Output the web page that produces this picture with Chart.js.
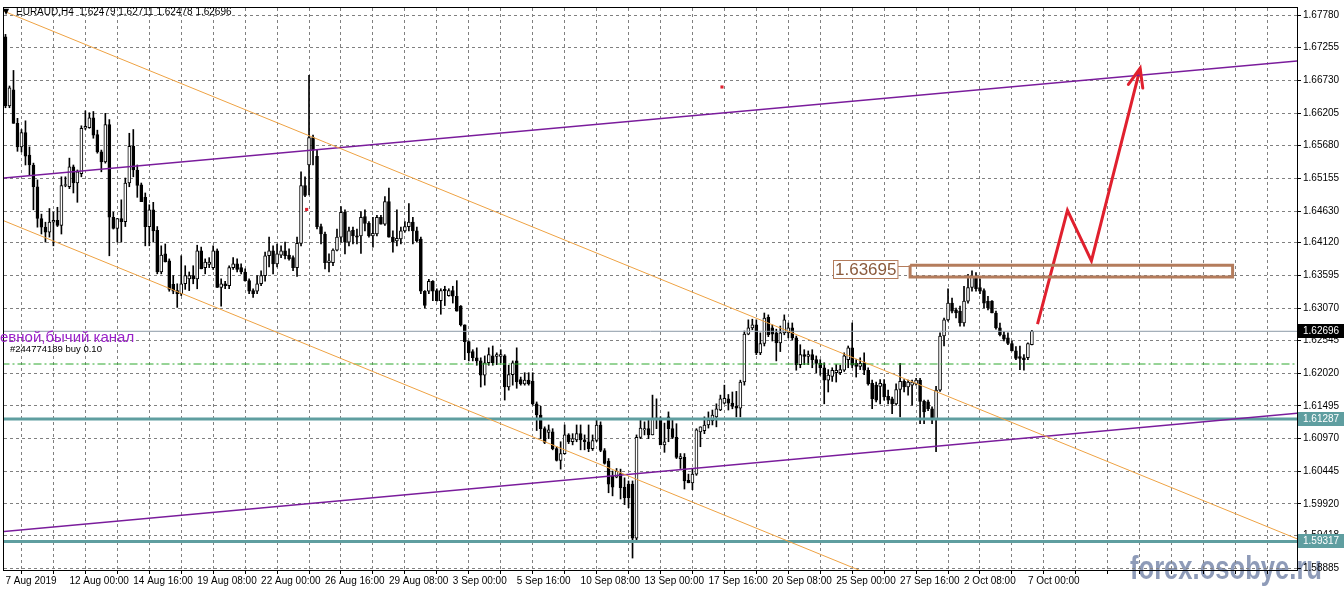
<!DOCTYPE html>
<html>
<head>
<meta charset="utf-8">
<title>EURAUD,H4</title>
<script src="https://cdn.jsdelivr.net/npm/chart.js@4.4.1/dist/chart.umd.min.js"></script>
<style>
  html, body { margin: 0; padding: 0; background: #fff; }
  #wrap { width: 1344px; height: 593px; position: relative; }
</style>
</head>
<body>
<div id="wrap"><canvas id="chart"></canvas></div>
<script>
// EURAUD H4 candles, bar 0 = 7 Aug 2019 08:00 (one bar = 4 hours)
const opens = [
  1.6743,1.6632,1.6658,1.6604,1.6566,1.6589,1.6553,1.6537,1.6502,1.6451,
  1.6437,1.6429,1.6445,1.6448,1.6440,1.6504,1.6502,1.6534,1.6508,1.6523,
  1.6596,1.6597,1.6613,1.6586,1.6558,1.6542,1.6602,1.6453,1.6435,1.6451,
  1.6446,1.6508,1.6567,1.6529,1.6505,1.6485,1.6438,1.6465,1.6432,1.6365,
  1.6394,1.6383,1.6345,1.6335,1.6330,1.6346,1.6354,1.6359,1.6354,1.6399,
  1.6372,1.6377,1.6372,1.6399,1.6340,1.6346,1.6343,1.6372,1.6378,1.6372,
  1.6365,1.6351,1.6335,1.6334,1.6346,1.6359,1.6391,1.6399,1.6378,1.6392,
  1.6399,1.6392,1.6388,1.6372,1.6411,1.6504,1.6537,1.6581,1.6551,1.6438,
  1.6426,1.6380,1.6380,1.6400,1.6421,1.6461,1.6413,1.6432,1.6423,1.6423,
  1.6454,1.6443,1.6423,1.6426,1.6453,1.6442,1.6478,1.6421,1.6415,1.6418,
  1.6431,1.6438,1.6445,1.6431,1.6418,1.6334,1.6334,1.6350,1.6335,1.6319,
  1.6337,1.6327,1.6335,1.6326,1.6310,1.6280,1.6253,1.6237,1.6227,1.6222,
  1.6199,1.6219,1.6230,1.6229,1.6229,1.6230,1.6180,1.6200,1.6222,1.6192,
  1.6185,1.6191,1.6189,1.6153,1.6135,1.6113,1.6107,1.6108,1.6081,1.6062,
  1.6073,1.6103,1.6092,1.6095,1.6105,1.6095,1.6092,1.6081,1.6094,1.6119,
  1.6078,1.6061,1.6037,1.6035,1.6041,1.6019,1.6024,1.6024,1.5937,1.6099,
  1.6111,1.6113,1.6103,1.6129,1.6127,1.6087,1.6132,1.6113,1.6099,1.6065,
  1.6067,1.6030,1.6026,1.6040,1.6108,1.6110,1.6119,1.6126,1.6132,1.6143,
  1.6154,1.6161,1.6154,1.6149,1.6146,1.6188,1.6265,1.6275,1.6280,1.6235,
  1.6250,1.6292,1.6275,1.6267,1.6251,1.6267,1.6267,1.6275,1.6259,1.6216,
  1.6232,1.6229,1.6232,1.6224,1.6218,1.6211,1.6191,1.6197,1.6203,1.6203,
  1.6207,1.6224,1.6243,1.6218,1.6213,1.6219,1.6207,1.6186,1.6183,1.6181,
  1.6185,1.6165,1.6161,1.6153,1.6176,1.6189,1.6180,1.6183,1.6185,1.6191,
  1.6157,1.6156,1.6145,1.6127,1.6175,1.6262,1.6288,1.6315,1.6304,1.6302,
  1.6283,1.6318,1.6340,1.6358,1.6340,1.6335,1.6318,1.6318,1.6299,1.6275,
  1.6264,1.6259,1.6250,1.6238,1.6229,1.6227,1.6227,1.62479
];
const highs = [
  1.6747,1.6664,1.6689,1.6612,1.6594,1.6608,1.6566,1.6540,1.6513,1.6458,
  1.6445,1.6467,1.6461,1.6469,1.6518,1.6518,1.6548,1.6537,1.6529,1.6600,
  1.6624,1.6621,1.6623,1.6593,1.6561,1.6620,1.6610,1.6461,1.6451,1.6481,
  1.6516,1.6588,1.6594,1.6537,1.6508,1.6492,1.6473,1.6477,1.6438,1.6407,
  1.6410,1.6386,1.6359,1.6346,1.6391,1.6375,1.6365,1.6375,1.6408,1.6405,
  1.6386,1.6388,1.6407,1.6402,1.6354,1.6350,1.6375,1.6388,1.6386,1.6378,
  1.6370,1.6354,1.6338,1.6359,1.6367,1.6397,1.6421,1.6407,1.6410,1.6407,
  1.6413,1.6402,1.6391,1.6421,1.6526,1.6518,1.6681,1.6585,1.6561,1.6442,
  1.6429,1.6394,1.6402,1.6434,1.6470,1.6465,1.6437,1.6437,1.6434,1.6462,
  1.6465,1.6446,1.6453,1.6456,1.6456,1.6486,1.6500,1.6431,1.6465,1.6437,
  1.6446,1.6475,1.6453,1.6437,1.6421,1.6335,1.6353,1.6351,1.6338,1.6338,
  1.6342,1.6338,1.6342,1.6351,1.6311,1.6280,1.6254,1.6240,1.6243,1.6227,
  1.6230,1.6243,1.6246,1.6235,1.6240,1.6232,1.6215,1.6222,1.6243,1.6196,
  1.6203,1.6203,1.6203,1.6156,1.6149,1.6116,1.6119,1.6113,1.6084,1.6092,
  1.6119,1.6105,1.6105,1.6119,1.6119,1.6103,1.6119,1.6103,1.6127,1.6124,
  1.6081,1.6065,1.6045,1.6049,1.6048,1.6034,1.6029,1.6029,1.6103,1.6127,
  1.6124,1.6127,1.6167,1.6161,1.6132,1.6122,1.6140,1.6127,1.6121,1.6073,
  1.6073,1.6040,1.6048,1.6113,1.6116,1.6132,1.6140,1.6143,1.6153,1.6167,
  1.6183,1.6168,1.6172,1.6173,1.6191,1.6270,1.6288,1.6289,1.6288,1.6267,
  1.6299,1.6296,1.6280,1.6273,1.6278,1.6296,1.6283,1.6283,1.6262,1.6248,
  1.6240,1.6238,1.6240,1.6230,1.6224,1.6219,1.6208,1.6211,1.6216,1.6215,
  1.6235,1.6246,1.6283,1.6224,1.6227,1.6235,1.6211,1.6191,1.6188,1.6192,
  1.6192,1.6175,1.6164,1.6185,1.6218,1.6192,1.6191,1.6191,1.6194,1.6194,
  1.6159,1.6159,1.6148,1.6181,1.6267,1.6291,1.6338,1.6323,1.6307,1.6310,
  1.6342,1.6361,1.6367,1.6364,1.6354,1.6338,1.6326,1.6319,1.6302,1.6283,
  1.6269,1.6267,1.6254,1.6245,1.6246,1.6232,1.6251,1.62711
];
const lows = [
  1.6629,1.6629,1.6604,1.6559,1.6558,1.6537,1.6521,1.6465,1.6437,1.6426,
  1.6413,1.6421,1.6407,1.6438,1.6426,1.6502,1.6499,1.6492,1.6477,1.6518,
  1.6594,1.6596,1.6580,1.6556,1.6526,1.6540,1.6391,1.6434,1.6413,1.6413,
  1.6438,1.6502,1.6518,1.6485,1.6478,1.6407,1.6407,1.6413,1.6362,1.6362,
  1.6381,1.6334,1.6330,1.6308,1.6327,1.6337,1.6335,1.6346,1.6338,1.6370,
  1.6362,1.6372,1.6369,1.6340,1.6310,1.6338,1.6338,1.6369,1.6365,1.6362,
  1.6350,1.6330,1.6324,1.6330,1.6343,1.6350,1.6373,1.6362,1.6373,1.6388,
  1.6386,1.6384,1.6367,1.6358,1.6407,1.6486,1.6489,1.6537,1.6434,1.6410,
  1.6370,1.6365,1.6375,1.6399,1.6413,1.6394,1.6407,1.6410,1.6410,1.6395,
  1.6431,1.6421,1.6405,1.6423,1.6442,1.6440,1.6421,1.6397,1.6407,1.6410,
  1.6429,1.6431,1.6410,1.6413,1.6330,1.6307,1.6330,1.6319,1.6318,1.6297,
  1.6311,1.6326,1.6315,1.6302,1.6278,1.6224,1.6222,1.6222,1.6215,1.6180,
  1.6183,1.6215,1.6215,1.6216,1.6219,1.6159,1.6175,1.6183,1.6178,1.6183,
  1.6183,1.6183,1.6151,1.6110,1.6097,1.6089,1.6097,1.6079,1.6061,1.6048,
  1.6072,1.6089,1.6087,1.6092,1.6079,1.6079,1.6076,1.6078,1.6092,1.6076,
  1.6056,1.6010,1.6005,1.6034,1.6000,1.5991,1.5986,1.5905,1.5933,1.6097,
  1.6103,1.6097,1.6103,1.6113,1.6087,1.6075,1.6092,1.6097,1.6065,1.6049,
  1.6016,1.6026,1.6015,1.6038,1.6084,1.6105,1.6114,1.6119,1.6116,1.6142,
  1.6153,1.6143,1.6145,1.6132,1.6132,1.6183,1.6264,1.6272,1.6232,1.6232,
  1.6246,1.6261,1.6254,1.6222,1.6237,1.6264,1.6259,1.6256,1.6207,1.6211,
  1.6216,1.6216,1.6211,1.6203,1.6199,1.6153,1.6172,1.6189,1.6188,1.6200,
  1.6205,1.6211,1.6211,1.6196,1.6208,1.6200,1.6183,1.6145,1.6156,1.6153,
  1.6159,1.6153,1.6137,1.6151,1.6132,1.6172,1.6167,1.6151,1.6183,1.6121,
  1.6121,1.6142,1.6121,1.6076,1.6173,1.6246,1.6286,1.6299,1.6291,1.6278,
  1.6278,1.6315,1.6334,1.6334,1.6330,1.6307,1.6304,1.6299,1.6273,1.6262,
  1.6254,1.6248,1.6238,1.6224,1.6208,1.6207,1.6224,1.62478
];
const closes = [
  1.6632,1.6661,1.6604,1.6566,1.6589,1.6551,1.6537,1.6502,1.6451,1.6437,
  1.6429,1.6445,1.6448,1.6440,1.6504,1.6505,1.6534,1.6508,1.6526,1.6596,
  1.6599,1.6613,1.6585,1.6558,1.6542,1.6602,1.6453,1.6435,1.6451,1.6446,
  1.6508,1.6567,1.6529,1.6504,1.6478,1.6438,1.6465,1.6431,1.6365,1.6392,
  1.6381,1.6337,1.6334,1.6330,1.6346,1.6359,1.6359,1.6354,1.6399,1.6370,
  1.6381,1.6381,1.6399,1.6340,1.6346,1.6343,1.6372,1.6378,1.6369,1.6365,
  1.6351,1.6334,1.6330,1.6346,1.6359,1.6391,1.6399,1.6378,1.6394,1.6399,
  1.6391,1.6386,1.6372,1.6411,1.6504,1.6488,1.6581,1.6561,1.6438,1.6426,
  1.6380,1.6383,1.6400,1.6421,1.6461,1.6413,1.6431,1.6423,1.6421,1.6453,
  1.6443,1.6423,1.6427,1.6453,1.6442,1.6478,1.6421,1.6413,1.6419,1.6431,
  1.6438,1.6445,1.6431,1.6415,1.6334,1.6311,1.6350,1.6334,1.6319,1.6335,
  1.6335,1.6335,1.6326,1.6302,1.6280,1.6253,1.6235,1.6227,1.6222,1.6199,
  1.6219,1.6232,1.6219,1.6232,1.6232,1.6180,1.6200,1.6219,1.6188,1.6185,
  1.6191,1.6185,1.6153,1.6135,1.6113,1.6091,1.6111,1.6081,1.6062,1.6073,
  1.6103,1.6092,1.6097,1.6105,1.6095,1.6092,1.6081,1.6094,1.6119,1.6078,
  1.6057,1.6024,1.6019,1.6045,1.6018,1.6002,1.6002,1.5937,1.6099,1.6114,
  1.6113,1.6103,1.6130,1.6130,1.6087,1.6092,1.6113,1.6099,1.6067,1.6068,
  1.6029,1.6026,1.6040,1.6111,1.6116,1.6119,1.6127,1.6135,1.6145,1.6161,
  1.6162,1.6154,1.6149,1.6146,1.6188,1.6265,1.6275,1.6280,1.6235,1.6250,
  1.6291,1.6264,1.6265,1.6251,1.6267,1.6288,1.6275,1.6259,1.6216,1.6232,
  1.6229,1.6232,1.6224,1.6218,1.6211,1.6191,1.6199,1.6207,1.6207,1.6208,
  1.6230,1.6243,1.6215,1.6213,1.6218,1.6207,1.6185,1.6161,1.6159,1.6186,
  1.6164,1.6159,1.6153,1.6176,1.6189,1.6180,1.6188,1.6188,1.6191,1.6157,
  1.6140,1.6145,1.6127,1.6175,1.6262,1.6288,1.6315,1.6302,1.6299,1.6283,
  1.6318,1.6340,1.6358,1.6338,1.6334,1.6315,1.6307,1.6299,1.6275,1.6264,
  1.6257,1.6250,1.6238,1.6226,1.6226,1.6224,1.6250,1.62696
];

// time axis: one label every 16 bars, a grid line every 8
const timeLabels = ['7 Aug 2019', '12 Aug 00:00', '14 Aug 16:00', '19 Aug 08:00', '22 Aug 00:00',
  '26 Aug 16:00', '29 Aug 08:00', '3 Sep 00:00', '5 Sep 16:00', '10 Sep 08:00', '13 Sep 00:00',
  '17 Sep 16:00', '20 Sep 08:00', '25 Sep 00:00', '27 Sep 16:00', '2 Oct 08:00', '7 Oct 00:00'];
const labelEvery = 16;
const gridEvery = 8;

const priceTicks = [1.67780, 1.67255, 1.66730, 1.66205, 1.65680, 1.65155, 1.64630, 1.64120, 1.63595,
  1.63070, 1.62545, 1.62020, 1.61495, 1.60970, 1.60445, 1.59920, 1.59418, 1.58885];

// drawn objects: [bar index, price]
const bidPrice = 1.62696;
const levelPrices = [1.61287, 1.59317];
const orderPrice = 1.62170;
const zonePrice = 1.63695;
const zoneX = [226.5, 307.25];
const zoneY = [1.63757, 1.63567];
const orangeUpper = [[-1, 1.67858], [324, 1.59343]];
const orangeLower = [[-1, 1.64488], [215, 1.58822]];
const purpleUpper = [[-1, 1.65158], [324, 1.67046]];
const purpleLower = [[-1, 1.59473], [324, 1.61382]];
const forecastPath = [[258.4, 1.62813], [265.9, 1.64639], [271.9, 1.63829], [284.1, 1.66925]];
const redMarks = [[75.4, 1.64655], [179.4, 1.66624]];

const FONT = '"Liberation Sans", Arial, sans-serif';
const TEAL = '#5f9ea0';
const BROWN = '#b47c5c';
const RED = '#e0202e';

const idx = opens.map((_, i) => i);
const pts = pairs => pairs.map(p => ({ x: p[0], y: p[1] }));
const flat = price => [{ x: -1, y: price }, { x: 324, y: price }];

function lineSet(data, color, width, dash) {
    return {
        type: 'line', data: data, borderColor: color, borderWidth: width,
        borderDash: dash || [], pointRadius: 0, fill: false, tension: 0, clip: 0, order: 0
    };
}

// overlay texts, price boxes, arrow head
const overlay = {
    id: 'overlay',
    beforeDraw(chart) {
        const ctx = chart.ctx;
        ctx.save();
        ctx.font = 'bold 33px ' + FONT;
        ctx.fillStyle = 'rgba(104, 122, 160, 0.75)';
        ctx.textBaseline = 'alphabetic';
        const w = ctx.measureText('forex.osobye.ru').width;
        ctx.translate(1130, 579);
        ctx.scale(192 / w, 1);
        ctx.fillText('forex.osobye.ru', 0, 0);
        ctx.restore();
    },
    afterDraw(chart) {
        const ctx = chart.ctx;
        const xs = chart.scales.x, ys = chart.scales.y;
        const a = chart.chartArea;
        ctx.save();

        // frame
        ctx.strokeStyle = '#000';
        ctx.lineWidth = 1;
        ctx.strokeRect(a.left - 0.5, a.top - 0.5, a.right - a.left + 1, a.bottom - a.top + 1);

        // arrow head on forecast path
        const n = forecastPath.length;
        const px1 = xs.getPixelForValue(forecastPath[n - 2][0]), py1 = ys.getPixelForValue(forecastPath[n - 2][1]);
        const px2 = xs.getPixelForValue(forecastPath[n - 1][0]), py2 = ys.getPixelForValue(forecastPath[n - 1][1]);
        const ang = Math.atan2(py2 - py1, px2 - px1);
        ctx.strokeStyle = RED;
        ctx.lineWidth = 3;
        ctx.lineCap = 'round';
        ctx.beginPath();
        ctx.moveTo(px2 - 20 * Math.cos(ang - 0.38), py2 - 20 * Math.sin(ang - 0.38));
        ctx.lineTo(px2, py2);
        ctx.lineTo(px2 - 20 * Math.cos(ang + 0.38), py2 - 20 * Math.sin(ang + 0.38));
        ctx.stroke();

        // zone price label
        const zx = xs.getPixelForValue(zoneX[0]);
        const zTop = ys.getPixelForValue(zoneY[0]);
        const zy = ys.getPixelForValue(zonePrice);
        ctx.font = '17px ' + FONT;
        const tw = ctx.measureText('1.63695').width;
        const bx = Math.round(zx - 12 - tw - 4);
        ctx.fillStyle = '#fff';
        ctx.fillRect(bx, Math.round(zy) - 9, tw + 4, 19);
        ctx.strokeStyle = BROWN;
        ctx.lineWidth = 1;
        ctx.strokeRect(bx + 0.5, Math.round(zy) - 8.5, tw + 3, 18);
        ctx.beginPath();
        ctx.moveTo(bx + tw + 4, Math.round(zTop) + 1.5);
        ctx.lineTo(zx - 1, Math.round(zTop) + 1.5);
        ctx.stroke();
        ctx.fillStyle = '#8a5a3c';
        ctx.textBaseline = 'middle';
        ctx.fillText(zonePrice.toFixed(5), bx + 2, Math.round(zy) + 1);

        // price boxes on the axis
        ctx.font = '10px ' + FONT;
        const box = (price, bg) => {
            const y = Math.round(ys.getPixelForValue(price));
            ctx.fillStyle = bg;
            ctx.fillRect(a.right + 1, y - 7, 47, 14);
            ctx.fillStyle = '#fff';
            ctx.textBaseline = 'middle';
            ctx.fillText(price.toFixed(5), a.right + 6, y + 0.5);
        };
        levelPrices.forEach(p => box(p, TEAL));
        box(bidPrice, '#000');

        // texts
        ctx.textBaseline = 'alphabetic';
        ctx.fillStyle = '#9a22c8';
        ctx.font = '15px ' + FONT;
        ctx.fillText('евной,бычий канал', 0, 342);
        ctx.fillStyle = '#000';
        ctx.font = '9.5px ' + FONT;
        ctx.fillText('#244774189 buy 0.10', 10, 352);

        ctx.font = '8px "DejaVu Sans", sans-serif';
        ctx.fillText('\u25BC', 3, 14);
        ctx.font = '10px ' + FONT;
        ctx.fillText('EURAUD,H4  ' + [opens[opens.length - 1], highs[highs.length - 1],
            lows[lows.length - 1], closes[closes.length - 1]].map(v => v.toFixed(5)).join(' '), 16, 15);
        ctx.restore();
    }
};

const gridTicks = [];
for (let v = 0; v <= 320; v += gridEvery) gridTicks.push(v);

new Chart(document.getElementById('chart'), {
    type: 'bar',
    data: {
        datasets: [
            lineSet(pts(orangeUpper), '#eea243', 1),
            lineSet(pts(orangeLower), '#eea243', 1),
            lineSet(pts(purpleUpper), '#7a1c9c', 1.6),
            lineSet(pts(purpleLower), '#7a1c9c', 1.6),
            lineSet(flat(levelPrices[0]), TEAL, 3),
            lineSet(flat(levelPrices[1]), TEAL, 3),
            lineSet(flat(bidPrice), '#8c99a6', 1),
            lineSet(flat(orderPrice), '#2fa82f', 1, [8, 3, 2, 3]),
            lineSet(pts([[zoneX[0], zoneY[0]], [zoneX[1], zoneY[0]], [zoneX[1], zoneY[1]],
                [zoneX[0], zoneY[1]], [zoneX[0], zoneY[0]]]), BROWN, 3),
            Object.assign(lineSet(pts(forecastPath), RED, 3), { borderJoinStyle: 'miter' }),
            {
                type: 'line', data: pts(redMarks), showLine: false, pointStyle: 'rect',
                pointRadius: 2.2, pointBackgroundColor: RED, pointBorderWidth: 0, order: 0
            },
            {
                label: 'body', data: idx.map(i => ({ x: i, y: [opens[i], closes[i]] })),
                backgroundColor: idx.map(i => closes[i] >= opens[i] ? '#ffffff' : '#000000'),
                borderColor: '#000', borderWidth: 1, borderSkipped: false,
                barThickness: 3, minBarLength: 1, grouped: false, order: 1
            },
            {
                label: 'wick', data: idx.map(i => ({ x: i, y: [lows[i], highs[i]] })),
                backgroundColor: '#000', borderWidth: 0,
                barThickness: 1, grouped: false, order: 2
            }
        ]
    },
    options: {
        responsive: true,
        maintainAspectRatio: false,
        animation: false,
        events: [],
        layout: { padding: { left: 2, top: 1, right: 0, bottom: 0 } },
        plugins: { legend: { display: false }, tooltip: { enabled: false } },
        scales: {
            x: {
                type: 'linear', offset: false, min: -0.375, max: 323.375,
                afterFit: s => { s.height = 23; },
                afterBuildTicks: s => { s.ticks = gridTicks.map(v => ({ value: v })); },
                grid: { color: '#808080', lineWidth: 1, tickLength: 4, tickColor: '#000' },
                border: { display: true, color: '#000', width: 1, dash: [3, 3] },
                ticks: {
                    autoSkip: false, maxRotation: 0, align: 'start', padding: 1,
                    color: '#000', font: { family: FONT, size: 10 },
                    callback: v => (v % labelEvery === 0 ? (timeLabels[v / labelEvery] || '') : '')
                }
            },
            y: {
                type: 'linear', position: 'right', min: 1.58858, max: 1.67894,
                afterFit: s => { s.width = 47; },
                afterBuildTicks: s => { s.ticks = priceTicks.map(v => ({ value: v })); },
                grid: { color: '#808080', lineWidth: 1, tickLength: 4, tickColor: '#000' },
                border: { display: true, color: '#000', width: 1, dash: [3, 3] },
                ticks: {
                    autoSkip: false, padding: 2, crossAlign: 'near',
                    color: '#000', font: { family: FONT, size: 10 },
                    callback: v => v.toFixed(5)
                }
            }
        }
    },
    plugins: [overlay]
});
</script>
</body>
</html>
